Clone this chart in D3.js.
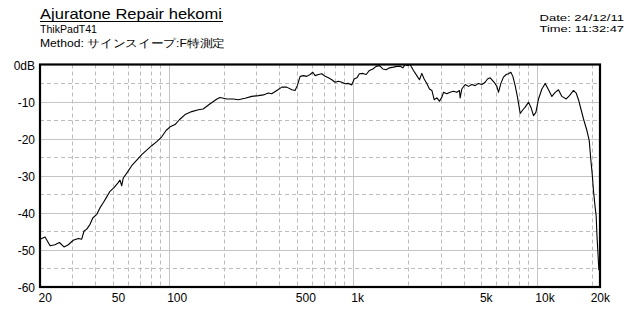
<!DOCTYPE html>
<html>
<head>
<meta charset="utf-8">
<script src="https://cdn.jsdelivr.net/npm/d3@7"></script>
<style>
  html, body { margin: 0; padding: 0; background: #fff; }
  svg { display: block; }
  text { font-family: "Liberation Sans", "DejaVu Sans", sans-serif; fill: #000; }
</style>
</head>
<body>
<svg id="fchart"></svg>
<script>
// 周波数特性 (Hz / dB)
const freqHz = [20, 21.3, 22.7, 24.1, 25.5, 27.0, 28.5, 30.3, 32.3, 33.7, 34.7, 35.9, 37.4, 38.7, 40.7,
  42.4, 44.2, 46.1, 48.0, 50.5, 53.3, 54.4, 55.6, 56.7, 59.6, 63.0, 67.1, 71.4, 76.0, 80.9, 86.2, 91.7,
  96.8, 101.8, 108.3, 114.3, 122.8, 133.5, 145, 154, 168, 183, 190, 207, 225, 239, 260, 283, 307, 327,
  348, 363, 387, 412, 438, 467, 486, 500, 518, 540, 563, 587, 607, 625, 651, 679, 708, 738, 770, 802,
  836, 872, 909, 947, 989, 1018, 1053, 1087, 1135, 1183, 1233, 1286, 1340, 1396, 1457, 1519, 1583, 1664,
  1736, 1809, 1872, 1926, 1983, 2050, 2138, 2230, 2304, 2374, 2444, 2527, 2612, 2692, 2770, 2864, 2960,
  3051, 3112, 3246, 3383, 3526, 3679, 3800, 3834, 3915, 4081, 4254, 4438, 4626, 4822, 5030, 5243, 5396,
  5582, 5868, 6070, 6192, 6380, 6590, 6817, 7016, 7231, 7413, 7630, 7854, 8124, 8404, 8650, 9014, 9288,
  9597, 9886, 10218, 10660, 11110, 11578, 12078, 12586, 13116, 13688, 14446, 15054, 15828, 16370, 16850,
  17366, 17940, 18722, 19270, 19676, 20000, 20330, 20760, 21020, 21210, 21560, 21740];
const levelDb = [-47.1, -46.5, -48.9, -48.6, -48.0, -49.2, -48.6, -47.4, -46.9, -47.1, -44.9, -44.4, -43.1, -41.4, -40.4,
  -38.6, -37.2, -35.7, -34.2, -33.2, -31.8, -31.2, -32.7, -30.6, -29.1, -27.3, -25.8, -24.3, -23.1, -21.9, -20.8, -19.5,
  -17.8, -16.8, -16.2, -14.9, -13.5, -12.7, -12.2, -12.0, -10.6, -9.3, -8.9, -9.3, -9.3, -9.5, -9.1, -8.6, -8.4, -8.2,
  -7.7, -7.9, -7.0, -6.1, -6.1, -6.8, -7.0, -5.7, -3.2, -3.0, -3.2, -2.7, -2.1, -3.0, -2.7, -2.5, -3.2, -3.6, -4.1, -4.8,
  -4.5, -4.8, -5.2, -5.1, -5.5, -3.9, -3.6, -2.5, -2.4, -2.7, -1.6, -1.2, -0.5, -0.3, -1.2, -1.4, -0.9, -0.7,
  -0.5, -0.5, -0.9, 0, -0.3, 0, -1.6, -3.0, -4.1, -2.4, -3.9, -5.1, -6.6, -7.0, -9.5, -9.0, -9.9,
  -8.8, -7.5, -7.9, -7.5, -7.2, -7.5, -7.0, -9.0, -6.6, -5.4, -5.9, -5.4, -5.7, -5.1, -5.4, -4.8, -3.9,
  -3.6, -4.8, -5.9, -7.5, -5.1, -3.4, -2.7, -2.5, -2.1, -3.2, -5.7, -8.8, -13.2, -12.2, -11.5, -10.2, -11.5,
  -13.8, -12.9, -9.3, -6.6, -5.1, -6.8, -8.6, -7.5, -6.8, -8.6, -9.3, -8.4, -7.0, -7.7, -9.5,
  -12.0, -14.7, -17.8, -20.5, -25.9, -29.5, -34.1, -38.6, -40.8, -45.8, -52.1, -55.5];

const xTickValues = [20, 50, 100, 500, 1000, 5000, 10000, 20000];
const xTickLabels = ['20', '50', '100', '500', '1k', '5k', '10k', '20k'];
const yTickValues = [0, -10, -20, -30, -40, -50, -60];
const yTickLabels = ['0dB', '-10', '-20', '-30', '-40', '-50', '-60'];

const titleText = 'Ajuratone Repair hekomi';
const subText1 = 'ThikPadT41';
const subText2 = 'Method: サインスイープ:F特測定';
const dateText = 'Date: 24/12/11';
const timeText = 'Time: 11:32:47';

const width = 640, height = 320;
const plot = {left: 40, right: 600, top: 64.5, bottom: 287};

const svg = d3.select('#fchart')
    .attr('width', width)
    .attr('height', height);

const xScale = d3.scaleLog()
    .domain([20, 22050])
    .range([plot.left, plot.right]);

const yScale = d3.scaleLinear()
    .domain([-60, 0])
    .range([plot.bottom, plot.top]);

//grid
const minorF = [];
[10, 100, 1000, 10000].forEach(dec => {
    for (let m = 2; m <= 9; m++) {
        const f = dec * m;
        if (f > 20 && f < 22050) minorF.push(f);
    }
});
const majorF = [100, 1000, 10000];
const minorDb = d3.range(-55, 0, 10);
const majorDb = [-10, -20, -30, -40, -50];

const grid = svg.append('g');
grid.selectAll('.vminor')
    .data(minorF)
    .enter()
    .append('line')
    .attr('x1', d => Math.round(xScale(d)) + 0.5)
    .attr('x2', d => Math.round(xScale(d)) + 0.5)
    .attr('y1', plot.top)
    .attr('y2', plot.bottom)
    .attr('stroke', '#bcbcbc')
    .attr('stroke-dasharray', '4,3');
grid.selectAll('.hminor')
    .data(minorDb)
    .enter()
    .append('line')
    .attr('x1', plot.left)
    .attr('x2', plot.right)
    .attr('y1', d => Math.round(yScale(d)) + 0.5)
    .attr('y2', d => Math.round(yScale(d)) + 0.5)
    .attr('stroke', '#bcbcbc')
    .attr('stroke-dasharray', '4,3');
grid.selectAll('.vmajor')
    .data(majorF)
    .enter()
    .append('line')
    .attr('x1', d => Math.round(xScale(d)) + 0.5)
    .attr('x2', d => Math.round(xScale(d)) + 0.5)
    .attr('y1', plot.top)
    .attr('y2', plot.bottom)
    .attr('stroke', '#c4c4c4');
grid.selectAll('.hmajor')
    .data(majorDb)
    .enter()
    .append('line')
    .attr('x1', plot.left)
    .attr('x2', plot.right)
    .attr('y1', d => Math.round(yScale(d)) + 0.5)
    .attr('y2', d => Math.round(yScale(d)) + 0.5)
    .attr('stroke', '#c4c4c4');

//curve
const pts = freqHz.map((f, i) => [f, levelDb[i]]);
const line = d3.line()
    .x(d => xScale(d[0]))
    .y(d => yScale(d[1]));
svg.append('path')
    .datum(pts)
    .attr('d', line)
    .attr('fill', 'none')
    .attr('stroke', '#000')
    .attr('stroke-width', 1.1)
    .attr('stroke-linejoin', 'round');

//frame
svg.append('rect')
    .attr('x', plot.left)
    .attr('y', plot.top)
    .attr('width', plot.right - plot.left)
    .attr('height', plot.bottom - plot.top)
    .attr('fill', 'none')
    .attr('stroke', '#000')
    .attr('stroke-width', 2.2);

//axes
const xAxis = d3.axisBottom(xScale)
    .tickValues(xTickValues)
    .tickSize(0)
    .tickFormat((d, i) => xTickLabels[i]);
const gx = svg.append('g')
    .attr('transform', `translate(0, ${plot.bottom})`)
    .call(xAxis);
gx.select('.domain').remove();
gx.selectAll('text')
    .attr('y', 15)
    .attr('dy', null)
    .attr('dx', -2)
    .attr('text-anchor', 'start')
    .attr('font-size', 12)
    .attr('font-family', '"Liberation Sans", sans-serif')
    .attr('fill', '#000');

const yAxis = d3.axisLeft(yScale)
    .tickValues(yTickValues)
    .tickSize(0)
    .tickPadding(5)
    .tickFormat((d, i) => yTickLabels[i]);
const gy = svg.append('g')
    .attr('transform', `translate(${plot.left}, 0)`)
    .call(yAxis);
gy.select('.domain').remove();
gy.selectAll('text')
    .attr('dy', '0.38em')
    .attr('font-size', 12)
    .attr('font-family', '"Liberation Sans", sans-serif')
    .attr('fill', '#000');

//header
svg.append('text')
    .attr('x', 40)
    .attr('y', 18.5)
    .attr('font-size', 15)
    .attr('textLength', 182)
    .attr('lengthAdjust', 'spacingAndGlyphs')
    .text(titleText);
svg.append('line')
    .attr('x1', 40).attr('x2', 223)
    .attr('y1', 21.5).attr('y2', 21.5)
    .attr('stroke', '#000');
svg.append('text')
    .attr('x', 40)
    .attr('y', 33)
    .attr('font-size', 10)
    .attr('textLength', 57)
    .attr('lengthAdjust', 'spacingAndGlyphs')
    .text(subText1);
svg.append('text')
    .attr('x', 40)
    .attr('y', 47)
    .attr('font-size', 10.5)
    .attr('font-family', '"Noto Sans CJK JP", sans-serif')
    .attr('textLength', 185)
    .attr('lengthAdjust', 'spacingAndGlyphs')
    .text(subText2);
svg.append('text')
    .attr('x', 539.5)
    .attr('y', 20.5)
    .attr('font-size', 9.8)
    .attr('textLength', 84.5)
    .attr('lengthAdjust', 'spacingAndGlyphs')
    .text(dateText);
svg.append('text')
    .attr('x', 539.5)
    .attr('y', 31.5)
    .attr('font-size', 9.8)
    .attr('textLength', 84.5)
    .attr('lengthAdjust', 'spacingAndGlyphs')
    .text(timeText);
</script>
</body>
</html>
